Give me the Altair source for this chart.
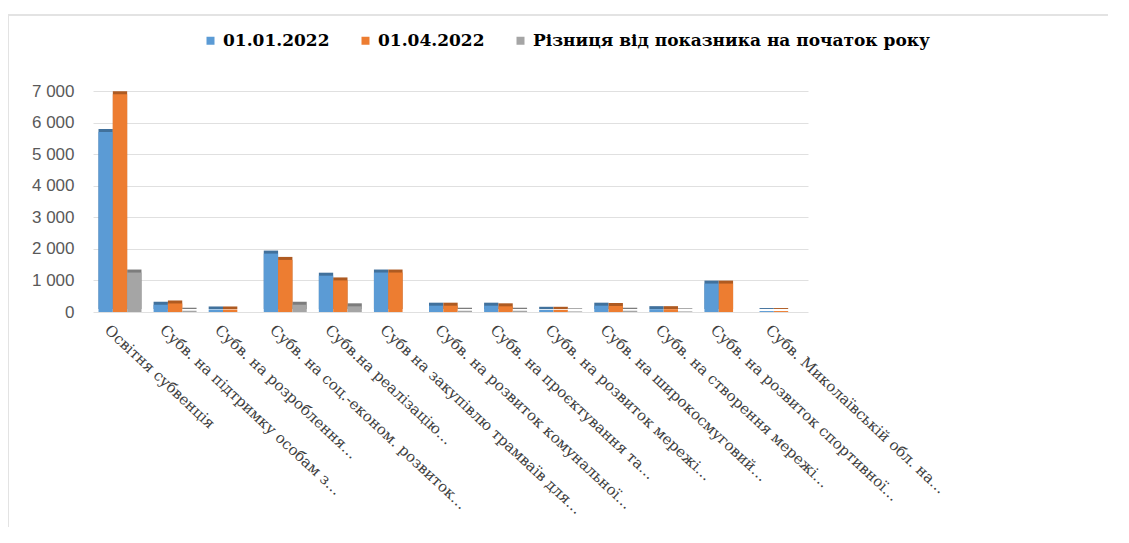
import altair as alt
import pandas as pd

categories = [
    "Освітня субвенція",
    "Субв. на підтримку особам з…",
    "Субв. на розроблення…",
    "Субв. на соц.-економ. розвиток…",
    "Субв.на реалізацію…",
    "Субв на закупівлю трамваїв для…",
    "Субв. на розвиток комунальної…",
    "Субв. на проєктування та…",
    "Субв. на розвиток мережі…",
    "Субв. на широкосмуговий…",
    "Субв. на створення мережі…",
    "Субв. на розвиток спортивної…",
    "Субв. Миколаївській обл. на…",
]
series = ["01.01.2022", "01.04.2022", "Різниця від показника на початок року"]
v_jan = [5700, 230, 80, 1850, 1150, 1250, 200, 200, 70, 200, 90, 900, 30]
v_apr = [6900, 270, 80, 1650, 1000, 1250, 200, 180, 70, 190, 90, 900, 30]
v_diff = [1250, 40, 0, 230, 180, 0, 40, 40, 20, 40, 20, 0, 0]

colors = ["#5b9bd5", "#ed7d31", "#a5a5a5"]
dark = ["#41719c", "#ae5a21", "#7c7c7c"]

rows = []
for i, c in enumerate(categories):
    for s, vals in zip(series, [v_jan, v_apr, v_diff]):
        rows.append({"cat": c, "series": s, "value": vals[i]})
df = pd.DataFrame(rows)
df = df[df["value"] > 0]

x = alt.X("cat:N", sort=categories, title=None,
          scale=alt.Scale(paddingInner=0.22, paddingOuter=0.1),
          axis=alt.Axis(labelAngle=43, labelAlign="left", labelBaseline="top",
                        labelFont="DejaVu Serif", labelFontSize=15,
                        labelColor="#404040", labelLimit=500, labelPadding=10,
                        labelOffset=-8, ticks=False, domain=False))
y = alt.Y("value:Q", title=None,
          scale=alt.Scale(domain=[0, 7000]),
          axis=alt.Axis(values=[0, 1000, 2000, 3000, 4000, 5000, 6000, 7000],
                        labelExpr="replace(format(datum.value, ','), ',', ' ')",
                        labelFont="Liberation Sans", labelFontSize=17,
                        labelColor="#595959", labelPadding=19,
                        ticks=False, domain=False, gridColor="#e0e0e0"))
xoff = alt.XOffset("series:N", sort=series)

side = alt.Chart(df).mark_bar(xOffset=3, yOffset=-3).encode(
    x=x, y=y, xOffset=xoff,
    color=alt.Color("series:N", sort=series,
                    scale=alt.Scale(domain=series, range=dark), legend=None),
)
front = alt.Chart(df).mark_bar().encode(
    x=x, y=y, xOffset=xoff,
    color=alt.Color("series:N", sort=series,
                    scale=alt.Scale(domain=series, range=colors),
                    legend=alt.Legend(title=None, orient="none", direction="horizontal",
                                      legendX=109, legendY=-59,
                                      labelFont="DejaVu Serif", labelFontSize=17,
                                      labelFontWeight="bold", labelColor="#000000",
                                      symbolType="square", symbolSize=64,
                                      columnPadding=27, labelLimit=600)),
)

frame_top = alt.Chart(pd.DataFrame({"k": [0]})).mark_rule(color="#e3e3e3", strokeWidth=2).encode(
    x=alt.value(-85), x2=alt.value(1040), y=alt.value(-76))
frame_left = alt.Chart(pd.DataFrame({"k": [0]})).mark_rule(color="#e3e3e3", strokeWidth=2).encode(
    x=alt.value(-85), y=alt.value(-76), y2=alt.value(444))

chart = alt.layer(frame_top, frame_left, side, front).resolve_scale(color="independent").properties(
    width=715, height=221,
    autosize=alt.AutoSizeParams(type="none"),
    padding={"left": 85, "top": 83, "right": 300, "bottom": 215},
).configure_view(stroke=None)

chart.save("out.html", embed_options={"renderer": "svg", "actions": False})
